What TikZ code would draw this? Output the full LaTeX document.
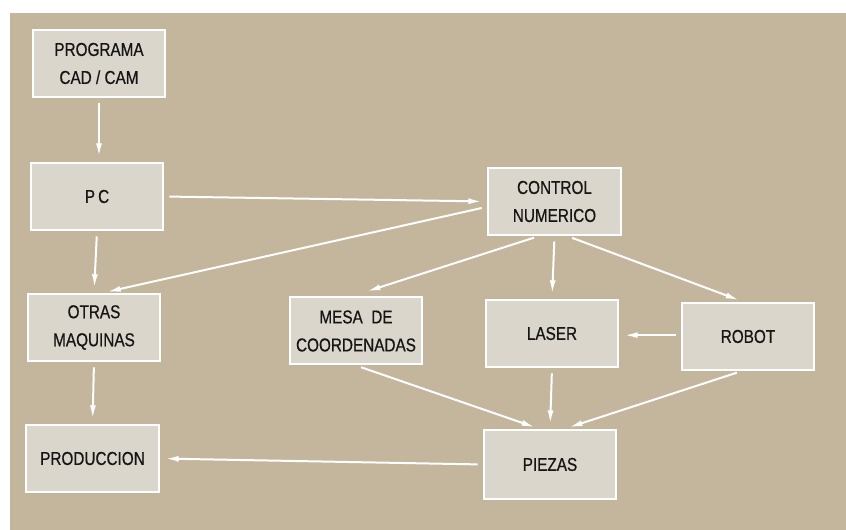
\documentclass[tikz,border=0pt]{standalone}
\usepackage{fontspec}
\newfontfamily\lblfont{Liberation Sans}[FakeStretch=0.82,FakeBold=0.6]
\usetikzlibrary{arrows.meta}
\definecolor{bgtan}{HTML}{C4B69D}
\definecolor{boxfill}{HTML}{DBD6CC}
\definecolor{inkdark}{HTML}{151515}
\begin{document}
\begin{tikzpicture}[x=0.75pt,y=-0.75pt,
  box/.style={draw=white, line width=1.5pt, fill=boxfill, minimum width=99pt, minimum height=50.25pt,
    inner sep=0pt, align=center, text=inkdark, font=\lblfont\fontsize{14}{21}\selectfont},
  conn/.style={draw=white, line width=1.5pt, -{Latex[length=10pt,width=4.5pt]}, shorten <=4pt, shorten >=4pt}]
\useasboundingbox (0,0) rectangle (846,530);
\fill[white] (0,0) rectangle (846,530);
\fill[bgtan] (10,13) rectangle (846,530);

\node[box] (cad) at (99,63.5) {PROGRAMA\\CAD / CAM};
\node[box] (pc) at (97,196.5) {P\,C};
\node[box, minimum width=99.75pt] (ctrl) at (554.5,201.5) {CONTROL\\NUMERICO};
\node[box] (otras) at (94,327.5) {OTRAS\\MAQUINAS};
\node[box] (mesa) at (356,331) {MESA\ \ DE\\COORDENADAS};
\node[box] (laser) at (552,333.5) {LASER};
\node[box] (robot) at (748,336.5) {ROBOT};
\node[box, minimum width=99.75pt] (prod) at (92.5,458.5) {PRODUCCION};
\node[box, minimum height=51.75pt] (piezas) at (550,464.5) {PIEZAS};

\draw[conn] (cad.south) -- (cad.south |- pc.north);
\draw[conn] (pc.east) -- (ctrl.west);
\draw[conn] ([yshift=-4pt]ctrl.west) -- ([xshift=6pt]otras.north);
\draw[conn] (pc.south) -- (otras.north);
\draw[conn] ([xshift=-11.5pt]ctrl.south) -- ([xshift=4.5pt]otras.north -| mesa.north);
\draw[conn] (ctrl.south) -- (laser.north);
\draw[conn] ([xshift=9.5pt]ctrl.south) -- ([xshift=-3pt]robot.north);
\draw[conn] ([yshift=1pt]robot.west) -- ([yshift=1pt]laser.east |- robot.west);
\draw[conn] (mesa.south) -- ([xshift=-7.5pt]piezas.north);
\draw[conn] (laser.south) -- (piezas.north);
\draw[conn] ([xshift=-4.5pt]robot.south) -- ([xshift=10.5pt]piezas.north);
\draw[conn] (otras.south) -- (prod.north);
\draw[conn] (piezas.west) -- (prod.east);
\end{tikzpicture}
\end{document}
